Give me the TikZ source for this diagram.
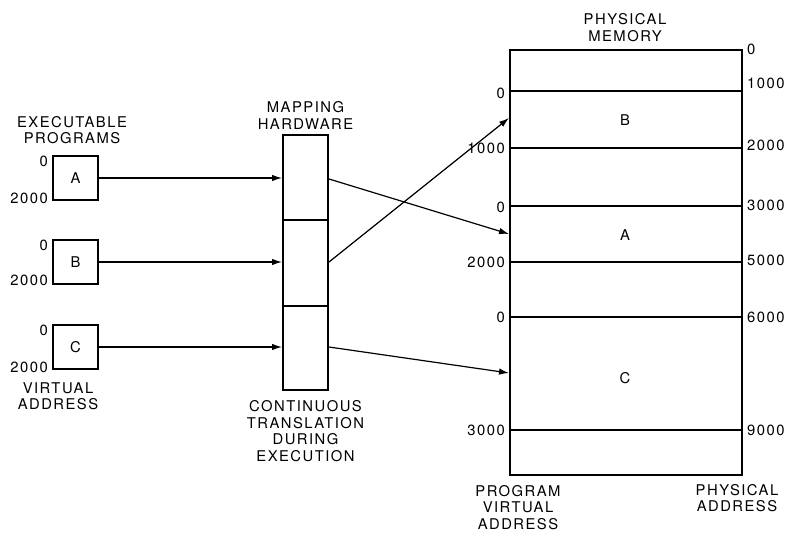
\documentclass[tikz,border=0pt]{standalone}
\usepackage{fontspec}
\setmainfont{TeX Gyre Heros}[LetterSpace=10]
\usetikzlibrary{arrows.meta}
\begin{document}
\begin{tikzpicture}[x=1pt,y=-1pt,
  lbl/.style={font=\fontsize{14.8}{16.5}\selectfont, inner sep=0pt, align=center},
  num/.style={font=\fontsize{14.8}{16.5}\selectfont, inner sep=0pt},
  prog/.style={draw, line width=2pt, minimum width=45pt, minimum height=44pt, inner sep=0pt, font=\fontsize{14.8}{16.5}\selectfont},
  thinline/.style={line width=1.2pt},
  arr/.style={line width=1.2pt, -{Latex[length=10pt,width=6.5pt]}}]
\useasboundingbox (0,0) rectangle (787,534);

% Programs
\node[lbl] (exec) at (72,130) {EXECUTABLE\\PROGRAMS};
\node[prog] (A) at (75.5,178.5) {A};
\node[prog] (B) at (75.5,262.5) {B};
\node[prog] (C) at (75.5,347) {C};
\node[lbl] (va) at (58,396) {VIRTUAL\\ADDRESS};
\node[num, anchor=east] (A0) at (48,161) {0};
\node[num, anchor=east] (A2) at (48,198) {2000};
\node[num, anchor=east] (B0) at (48,245) {0};
\node[num, anchor=east] (B2) at (48,280) {2000};
\node[num, anchor=east] (C0) at (48,330) {0};
\node[num, anchor=east] (C2) at (48,367) {2000};

% Mapping hardware
\node[lbl] (maplbl) at (305.5,115.5) {MAPPING\\HARDWARE};
\node[draw, line width=2pt, minimum width=45pt, minimum height=255pt, inner sep=0pt] (map) at (305.5,262.5) {};
\draw[thinline] (map.west |- 0,220) -- (map.east |- 0,220);
\draw[thinline] (map.west |- 0,306) -- (map.east |- 0,306);
\node[lbl] (cont) at (305.5,431) {CONTINUOUS\\TRANSLATION\\DURING\\EXECUTION};

\draw[arr] (A.east |- 0,178) -- (map.west |- 0,178);
\draw[arr] (B.east |- 0,262) -- (map.west |- 0,262);
\draw[arr] (C.east |- 0,347) -- (map.west |- 0,347);

% Physical memory
\node[lbl] (pm) at (625,27.5) {PHYSICAL\\MEMORY};
\node[draw, line width=2pt, minimum width=232pt, minimum height=425pt, inner sep=0pt] (mem) at (626,262.5) {};
\foreach \yy in {91,148,206,262,317,430}
  \draw[thinline] (mem.west |- 0,\yy) -- (mem.east |- 0,\yy);
\node[num] (mB) at (625,120) {B};
\node[num] (mA) at (625,235) {A};
\node[num] (mC) at (625,378) {C};

% left labels
\node[num, anchor=east] (l1) at (505,93) {0};
\node[num, anchor=east] (l2) at (505,148) {1000};
\node[num, anchor=east] (l3) at (505,207) {0};
\node[num, anchor=east] (l4) at (505,262) {2000};
\node[num, anchor=east] (l5) at (505,317) {0};
\node[num, anchor=east] (l6) at (505,430) {3000};
% right labels
\node[num, anchor=west] (r0) at (747,49) {0};
\node[num, anchor=west] (r1) at (747,83) {1000};
\node[num, anchor=west] (r2) at (747,145) {2000};
\node[num, anchor=west] (r3) at (747,205) {3000};
\node[num, anchor=west] (r5) at (747,260) {5000};
\node[num, anchor=west] (r6) at (747,317) {6000};
\node[num, anchor=west] (r9) at (747,430) {9000};

\node[lbl] (pva) at (518,507.5) {PROGRAM\\VIRTUAL\\ADDRESS};
\node[lbl] (pa) at (737,498) {PHYSICAL\\ADDRESS};

% translation arrows
\coordinate (sA) at (map.east |- 0,179);
\coordinate (sB) at (map.east |- 0,262);
\coordinate (sC) at (map.east |- 0,347);
\coordinate (eA) at (mem.west |- 0,234);
\coordinate (eB) at (mem.west |- 0,118);
\coordinate (eC) at (mem.west |- 0,373);
\draw[arr] (sA) -- (eA);
\draw[arr] (sB) -- (eB);
\draw[arr] (sC) -- (eC);
\end{tikzpicture}
\end{document}
